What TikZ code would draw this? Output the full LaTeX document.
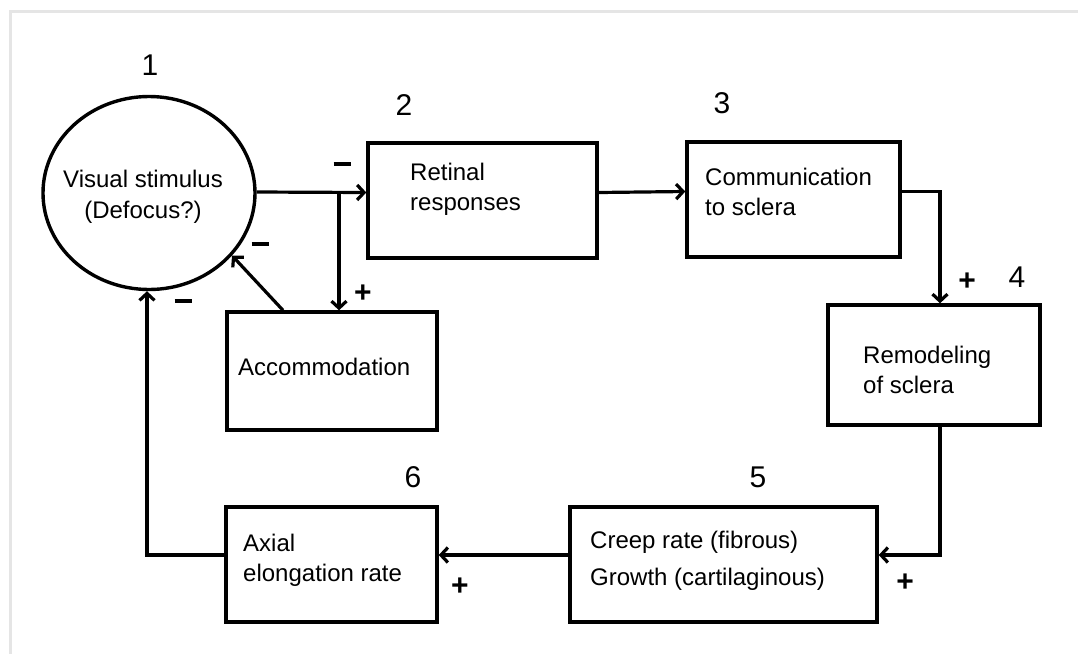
\documentclass[tikz,border=0pt]{standalone}
\usepackage{fontspec}
\setmainfont{Liberation Sans}
\usetikzlibrary{arrows.meta,shapes.geometric}
\begin{document}
\begin{tikzpicture}[x=1pt,y=-1pt,
  box/.style={draw, line width=3.4pt, rectangle, inner sep=0pt},
  txt/.style={anchor=west, inner sep=0pt, align=left, font=\fontsize{24}{30}\selectfont},
  num/.style={inner sep=0pt, font=\fontsize{30}{32}\selectfont},
  sgn/.style={inner sep=0pt, font=\fontsize{30}{32}\selectfont\bfseries},
  arr/.style={line width=3.2pt, -{Straight Barb[length=7pt,width=15pt,line width=3.2pt]}}]
\useasboundingbox (0,0) rectangle (1078,654);
\fill[white] (0,0) rectangle (1078,654);
% frame shadow
\draw[gray!20, line width=3pt] (10,654) -- (10,11) -- (1078,11);

% nodes
\node[draw, ellipse, line width=3.4pt, minimum width=212pt, minimum height=193pt, inner sep=0pt] (c1) at (149,193) {};
\node[font=\fontsize{24}{31}\selectfont, align=center, inner sep=0pt] (t1) at (143,197) {Visual stimulus\\(Defocus?)};
\node[box, minimum width=229pt, minimum height=115pt] (b2) at (482.5,200.5) {};
\node[box, minimum width=213pt, minimum height=115pt] (b3) at (793.5,199.5) {};
\node[box, minimum width=212pt, minimum height=120pt] (b4) at (934,365) {};
\node[box, minimum width=307pt, minimum height=115pt] (b5) at (723.5,564.5) {};
\node[box, minimum width=211pt, minimum height=115pt] (b6) at (331.5,564.5) {};
\node[box, minimum width=210pt, minimum height=118pt] (acc) at (332,371) {};

% texts
\node[txt] (t2) at (410,189) {Retinal\\responses};
\node[txt] (t3) at (705,192) {Communication\\to sclera};
\node[txt] (t4) at (863,370) {Remodeling\\of sclera};
\node[txt, font=\fontsize{24}{37}\selectfont] (t5) at (590,561) {Creep rate (fibrous)\\Growth (cartilaginous)};
\node[txt] (t6) at (243,560) {Axial\\elongation rate};
\node[txt] (tacc) at (238,367) {Accommodation};

% numbers
\node[num] (n1) at (150,65) {1};
\node[num] (n2) at (404,105) {2};
\node[num] (n3) at (722,103) {3};
\node[num] (n4) at (1017,277) {4};
\node[num] (n5) at (758,477) {5};
\node[num] (n6) at (413,477) {6};

% connectors
\draw[arr] ([yshift=1pt]c1.east) -- ([yshift=8pt]b2.west);
\coordinate (br) at (339,192);
\draw[arr] (br) -- (br |- acc.north);
\draw[arr] ([xshift=-49pt]acc.north) -- (c1.-37);
\draw[arr] ([yshift=8pt]b2.east) -- ([yshift=8pt]b3.west);
\draw[arr] ([yshift=8pt]b3.east) -| ([xshift=6pt]b4.north);
\draw[arr] ([xshift=6pt]b4.south) |- ([yshift=9.5pt]b5.east);
\draw[arr] ([yshift=9.5pt]b5.west) -- ([yshift=9.5pt]b6.east);
\draw[arr] ([yshift=9.5pt]b6.west) -| ([xshift=-2pt]c1.south);

% signs
\node[sgn] (s1) at (342,164) {\rule{17pt}{3.6pt}};
\node[sgn] (s2) at (363,294) {+};
\node[sgn] (s3) at (260,244) {\rule{17pt}{3.6pt}};
\node[sgn] (s4) at (183,301) {\rule{17pt}{3.6pt}};
\node[sgn] (s5) at (967,282) {+};
\node[sgn] (s6) at (905,583) {+};
\node[sgn] (s7) at (460,587) {+};
\end{tikzpicture}
\end{document}
